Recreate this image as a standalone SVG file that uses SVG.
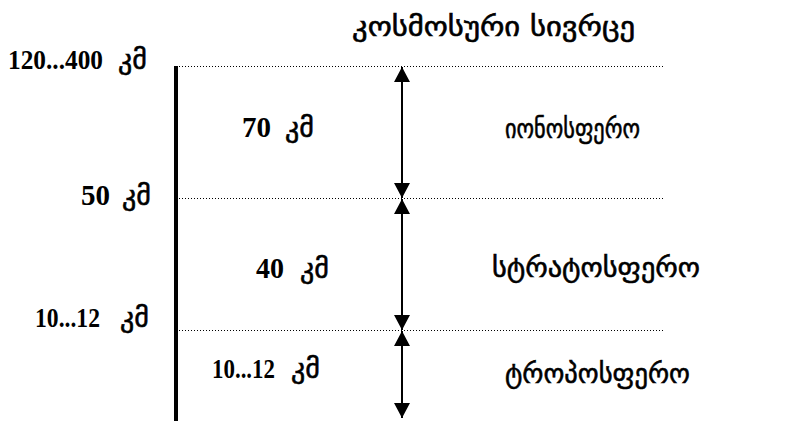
<svg xmlns="http://www.w3.org/2000/svg" width="792" height="421" viewBox="0 0 792 421">
<style>
text{font-family:"Liberation Serif","DejaVu Serif",serif;font-size:30px;font-weight:bold;fill:#000}
.sm{font-size:28px}
.geo{font-family:"DejaVu Sans",sans-serif;font-weight:normal;font-size:28px;stroke:#000;stroke-width:0.6}
.dot{stroke:#000;stroke-width:1;stroke-dasharray:1 2;fill:none}
.arr{stroke:#000;stroke-width:2;fill:none;marker-start:url(#a);marker-end:url(#a)}
</style>
<defs>
<marker id="a" viewBox="0 0 15 16" refX="15" refY="8" markerWidth="15" markerHeight="16" markerUnits="userSpaceOnUse" orient="auto-start-reverse">
<path d="M0,0 L15,8 L0,16 Z" fill="#000"/>
</marker>
</defs>
<rect width="792" height="421" fill="#fff"/>
<g id="axis"><line x1="176" y1="66" x2="176" y2="421" stroke="#000" stroke-width="4"/></g>
<g id="connectors">
<line class="dot" x1="179" y1="66.5" x2="665" y2="66.5"/>
<line class="dot" x1="179" y1="198.5" x2="665" y2="198.5"/>
<line class="dot" x1="179" y1="330.5" x2="665" y2="330.5"/>
<line class="arr" x1="402" y1="67" x2="402" y2="198"/>
<line class="arr" x1="402" y1="199" x2="402" y2="330"/>
<line class="arr" x1="402" y1="331" x2="402" y2="418"/>
</g>
<g id="title"><text class="geo" x="352" y="36" textLength="283" lengthAdjust="spacingAndGlyphs">კოსმოსური სივრცე</text></g>
<g id="label-120"><text class="sm" x="8" y="69" textLength="95" lengthAdjust="spacingAndGlyphs">120...400</text><text class="geo" x="118" y="69">კმ</text></g>
<g id="label-50"><text x="81" y="205" textLength="29" lengthAdjust="spacingAndGlyphs">50</text><text class="geo" x="122" y="205">კმ</text></g>
<g id="label-10a"><text class="sm" x="35" y="327" textLength="65" lengthAdjust="spacingAndGlyphs">10...12</text><text class="geo" x="120" y="327">კმ</text></g>
<g id="ionosphere">
<text x="242" y="137" textLength="29" lengthAdjust="spacingAndGlyphs">70</text><text class="geo" x="285" y="137">კმ</text>
<text class="geo" x="505" y="138" textLength="135" lengthAdjust="spacingAndGlyphs">იონოსფერო</text>
</g>
<g id="stratosphere">
<text x="256" y="278" textLength="28" lengthAdjust="spacingAndGlyphs">40</text><text class="geo" x="300" y="278">კმ</text>
<text class="geo" x="492" y="277" textLength="208" lengthAdjust="spacingAndGlyphs">სტრატოსფერო</text>
</g>
<g id="troposphere">
<text class="sm" x="212" y="378" textLength="63" lengthAdjust="spacingAndGlyphs">10...12</text><text class="geo" x="291" y="378">კმ</text>
<text class="geo" x="505" y="383" textLength="185" lengthAdjust="spacingAndGlyphs">ტროპოსფერო</text>
</g>
</svg>
